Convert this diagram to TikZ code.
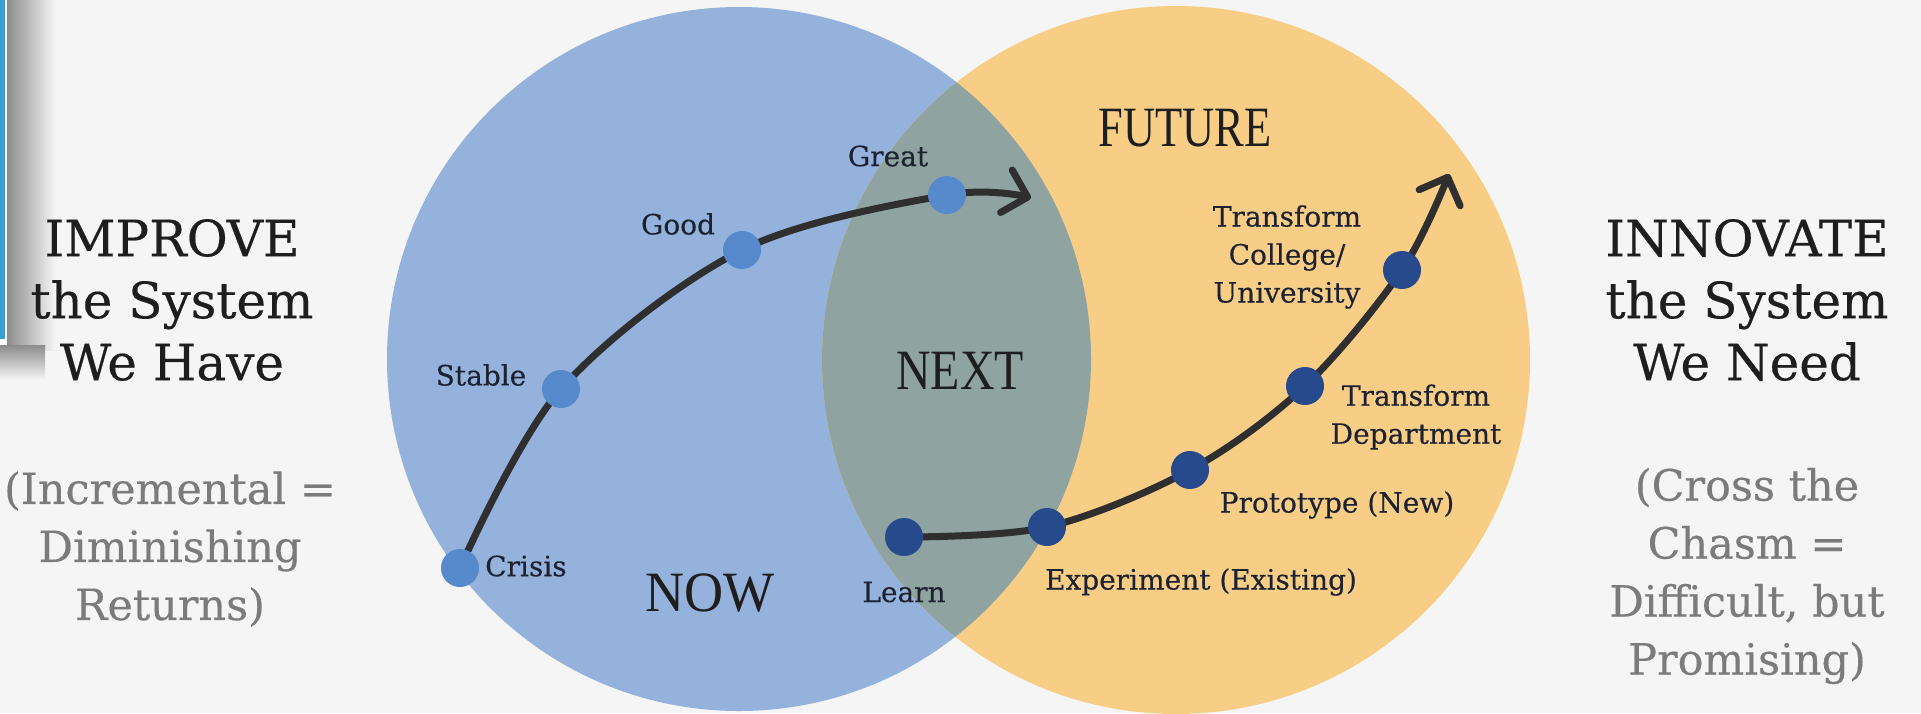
\documentclass[tikz,border=0pt]{standalone}
\usepackage{fontspec}
\setmainfont{DejaVu Serif}
\newfontfamily\lblfont[FakeBold=0.35]{DejaVu Serif}
\newfontfamily\bigfont{Liberation Serif}
\usetikzlibrary{arrows.meta}
\definecolor{bg}{HTML}{F5F5F5}
\definecolor{nowblue}{HTML}{94B2DC}
\definecolor{futorange}{HTML}{F8CE87}
\definecolor{lenscol}{HTML}{8FA3A0}
\definecolor{dotlight}{HTML}{5789CD}
\definecolor{dotdark}{HTML}{264A8C}
\definecolor{curvecol}{HTML}{2F2F2F}
\definecolor{labelcol}{HTML}{1C2230}
\definecolor{headcol}{HTML}{1E1E1E}
\definecolor{greytext}{HTML}{7B7B7B}
\definecolor{barblue}{HTML}{3AA0D2}
\begin{document}
\begin{tikzpicture}[x=1pt,y=1pt,
  heading/.style={text=headcol, font=\lblfont\fontsize{50}{62}\selectfont, align=center, inner sep=0pt},
  subtext/.style={text=greytext, font=\lblfont\fontsize{43}{58}\selectfont, align=center, inner sep=0pt},
  lbl/.style={text=labelcol, font=\lblfont\fontsize{28}{38}\selectfont, align=center, inner sep=0pt},
  bigword/.style={text=headcol, font=\bigfont\fontsize{57}{57}\selectfont, inner sep=0pt},
  curve/.style={draw=curvecol, line width=7pt, line cap=round, line join=round},
  dotA/.style={circle, fill=dotlight, minimum size=38pt, inner sep=0pt},
  dotB/.style={circle, fill=dotdark, minimum size=38pt, inner sep=0pt},
  barbtip/.style={-{Straight Barb[length=22pt,width=44pt,round]}}
]
\useasboundingbox (0,0) rectangle (1921,-713);
\fill[bg] (0,0) rectangle (1921,-713);
% corner decoration
\shade[left color=black!45, right color=bg] (7,0) rectangle (55,-350);
\shade[top color=black!45, bottom color=bg] (0,-345) rectangle (45,-380);
\fill[white] (0,0) rectangle (7,-345);
\fill[barblue] (0,0) rectangle (5,-339);
% circles
\fill[nowblue] (739,-359) circle[radius=352];
\fill[futorange] (1176,-360) circle[radius=354];
\begin{scope}
  \clip (739,-359) circle[radius=352];
  \fill[lenscol] (1176,-360) circle[radius=354];
\end{scope}
% curve points
\coordinate (pcrisis) at (460,-568);
\coordinate (pstable) at (561,-389);
\coordinate (pgood) at (742,-250);
\coordinate (pgreat) at (947,-195);
\coordinate (tipnow) at (1031,-198);
\coordinate (plearn) at (904,-537);
\coordinate (pexp) at (1047,-527);
\coordinate (pproto) at (1190,-470);
\coordinate (pdept) at (1305,-386);
\coordinate (pcoll) at (1402,-270);
\coordinate (tipfut) at (1449,-174);
\draw[curve, barbtip] plot[smooth, tension=0.55] coordinates {(pcrisis) (pstable) (pgood) (pgreat) (tipnow)};
\draw[curve, barbtip] plot[smooth, tension=0.55] coordinates {(plearn) (pexp) (pproto) (pdept) (pcoll) (tipfut)};
% dots
\node[dotA] (crisis) at (pcrisis) {};
\node[dotA] (stable) at (pstable) {};
\node[dotA] (good) at (pgood) {};
\node[dotA] (great) at (pgreat) {};
\node[dotB] (learn) at (plearn) {};
\node[dotB] (exp) at (pexp) {};
\node[dotB] (proto) at (pproto) {};
\node[dotB] (dept) at (pdept) {};
\node[dotB] (coll) at (pcoll) {};
% labels
\node[lbl, anchor=west] (lcrisis) at (485,-566) {Crisis};
\node[lbl] (lstable) at (481,-375) {Stable};
\node[lbl] (lgood) at (678,-224) {Good};
\node[lbl] (lgreat) at (888,-156) {Great};
\node[lbl] (llearn) at (904,-592) {Learn};
\node[lbl] (lexp) at (1201,-582) {Experiment (Existing)};
\node[lbl] (lproto) at (1337,-505) {Prototype (New)};
\node[lbl] (ldept) at (1416,-417) {Transform\\Department};
\node[lbl] (lcoll) at (1287,-257) {Transform\\College/\\University};
% big words
\node[bigword, xscale=0.95] (now) at (710,-593) {NOW};
\node[bigword, xscale=0.84] (next) at (960,-371) {NEXT};
\node[bigword, xscale=0.78] (future) at (1185,-128) {FUTURE};
% side texts
\node[heading] (improve) at (172,-300) {IMPROVE\\the System\\We Have};
\node[subtext] (incr) at (170,-549) {(Incremental =\\Diminishing\\Returns)};
\node[heading] (innovate) at (1747,-300) {INNOVATE\\the System\\We Need};
\node[subtext] (cross) at (1747,-576) {(Cross the\\Chasm =\\Difficult, but\\Promising)};
\end{tikzpicture}
\end{document}
